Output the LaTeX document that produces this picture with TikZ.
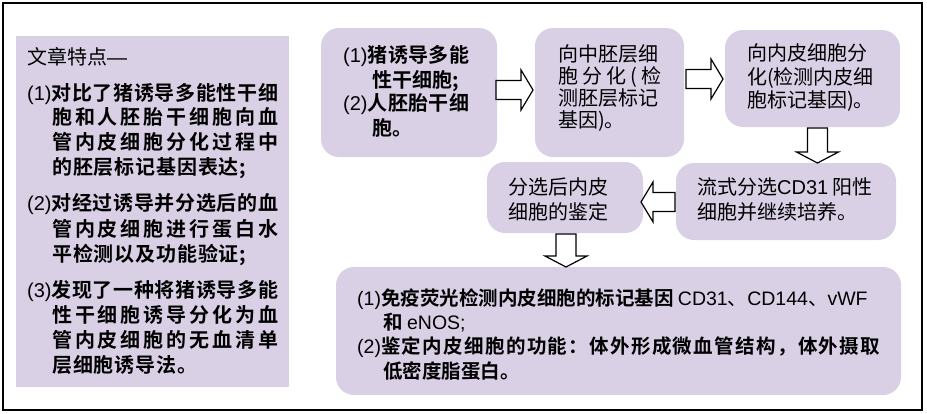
\documentclass[tikz,border=0pt]{standalone}
\usepackage{fontspec}
\setmainfont{Noto Sans CJK SC}[BoldFont={Noto Sans CJK SC Bold}]
\newfontfamily\lat{Liberation Sans}
\definecolor{lav}{RGB}{217,208,230}
\def\SpEnd{}
\def\SpA#1{#1\SpB}
\def\SpB#1{\ifx\SpEnd#1\else\hfill#1\expandafter\SpB\fi}
\newcommand\spread[2]{\makebox[#1pt][s]{\SpA#2\SpEnd}}
\tikzset{
  box/.style={fill=lav, draw=none, rounded corners=18pt, inner sep=0pt},
  panel/.style={fill=lav, draw=none, inner sep=0pt},
  hollow/.style={draw=black, fill=white, line width=1.2pt, line join=miter},
  txt/.style={anchor=base west, inner sep=0pt, font=\fontsize{20}{24}\selectfont},
  btxt/.style={txt, font=\fontsize{20}{24}\selectfont\bfseries},
  ftxt/.style={anchor=base west, inner sep=0pt, font=\fontsize{19.5}{24}\selectfont\bfseries},
}
\newcommand\RArr[3]{\draw[hollow] (#1,#3-9.5) -- (#2-12,#3-9.5) -- (#2-12,#3-20) -- (#2,#3) -- (#2-12,#3+20) -- (#2-12,#3+9.5) -- (#1,#3+9.5) -- cycle;}
\newcommand\LArr[3]{\draw[hollow] (#1,#3-9.5) -- (#2+12,#3-9.5) -- (#2+12,#3-20) -- (#2,#3) -- (#2+12,#3+20) -- (#2+12,#3+9.5) -- (#1,#3+9.5) -- cycle;}
\newcommand\DArr[3]{\draw[hollow] (#3-10,#1) -- (#3-10,#2-11) -- (#3-21,#2-11) -- (#3,#2) -- (#3+21,#2-11) -- (#3+10,#2-11) -- (#3+10,#1) -- cycle;}
\begin{document}
\begin{tikzpicture}[x=1pt, y=-1pt]
\useasboundingbox (0,0) rectangle (927,413);
\draw[line width=1.2pt] (3,3) rectangle (922,410);
% boxes
\node[panel, minimum width=273pt, minimum height=351pt] (L) at (152.5,211.5) {};
\node[box, minimum width=176pt, minimum height=129pt] (A) at (409,92.5) {};
\node[box, minimum width=149pt, minimum height=129pt] (B) at (609.5,92.5) {};
\node[box, minimum width=175pt, minimum height=97pt] (C) at (812.5,78.5) {};
\node[box, minimum width=220pt, minimum height=77pt] (D) at (786,201.5) {};
\node[box, minimum width=156pt, minimum height=71pt] (E) at (565,197.5) {};
\node[box, minimum width=565pt, minimum height=128pt] (F) at (618.5,331) {};
% arrows
\RArr{496}{533}{90}
\RArr{686}{723}{79}
\DArr{128}{163}{817.5}
\LArr{675}{641}{202}
\DArr{234}{267}{566}
% left panel text
\node[txt] (l0) at (27,64.5) {文章特点{\lat —}};
\node[btxt] (l1) at (27,100.5) {\spread{251}{{{\lat\mdseries(1)}对}比了猪诱导多能性干细}};
\node[btxt] (l2) at (52,124.5) {\spread{226}{胞和人胚胎干细胞向血}};
\node[btxt] (l3) at (52,149.5) {\spread{226}{管内皮细胞分化过程中}};
\node[btxt] (l4) at (52,174.5) {\spread{194}{的胚层标记基因表达;}};
\node[btxt] (l5) at (27,210.5) {\spread{251}{{{\lat\mdseries(2)}对}经过诱导并分选后的血}};
\node[btxt] (l6) at (52,236.5) {\spread{226}{管内皮细胞进行蛋白水}};
\node[btxt] (l7) at (52,261.5) {\spread{194}{平检测以及功能验证;}};
\node[btxt] (l8) at (27,297.5) {\spread{251}{{{\lat\mdseries(3)}发}现了一种将猪诱导多能}};
\node[btxt] (l9) at (52,322.5) {\spread{226}{性干细胞诱导分化为血}};
\node[btxt] (l10) at (52,347.5) {\spread{226}{管内皮细胞的无血清单}};
\node[btxt] (l11) at (52,372.5) {\spread{145}{层细胞诱导法。}};
% box A
\node[btxt] (a1) at (343,62.5) {\spread{126}{{{\lat\mdseries(1)}猪}诱导多能}};
\node[btxt] (a2) at (372,87.5) {性干细胞;};
\node[btxt] (a3) at (343,110.5) {\spread{126}{{{\lat\mdseries(2)}人}胚胎干细}};
\node[btxt] (a4) at (372,135.5) {胞。};
% box B
\node[txt] (b1) at (558,61) {向中胚层细};
\node[txt] (b2) at (558,83.5) {\spread{103}{胞分化(检}};
\node[txt] (b3) at (558,105.5) {测胚层标记};
\node[txt] (b4) at (558,127.5) {基因)。};
% box C
\node[txt] (c1) at (747,60.5) {向内皮细胞分};
\node[txt] (c2) at (747,84.5) {化(检测内皮细};
\node[txt] (c3) at (747,107.5) {胞标记基因)。};
% box D
\node[txt] (d1) at (697,194.5) {流式分选{\lat CD31} 阳性};
\node[txt] (d2) at (697,219.5) {细胞并继续培养。};
% box E
\node[txt] (e1) at (508,194.5) {分选后内皮};
\node[txt] (e2) at (508,219.5) {细胞的鉴定};
% box F
\node[ftxt] (f1) at (357,305) {{\lat\mdseries(1)}免疫荧光检测内皮细胞的标记基因 {\mdseries{\lat CD31}、{\lat CD144}、{\lat vWF}}};
\node[ftxt] (f2) at (383,329) {和 {\lat\mdseries eNOS;}};
\node[ftxt] (f3) at (357,353) {\spread{523}{{{\lat\mdseries(2)}鉴}定内皮细胞的功能：体外形成微血管结构，体外摄取}};
\node[ftxt] (f4) at (383,378) {低密度脂蛋白。};
\end{tikzpicture}
\end{document}
